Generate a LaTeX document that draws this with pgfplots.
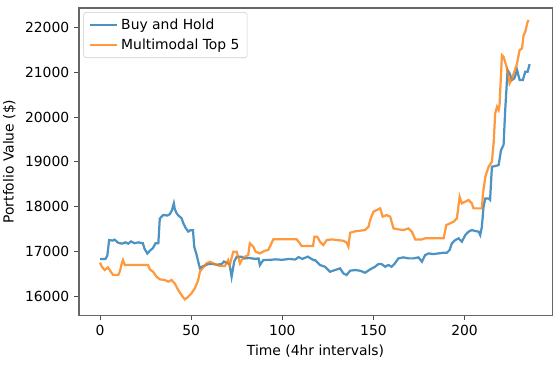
\documentclass[border=0pt]{standalone}
\usepackage{fontspec}
\setmainfont{DejaVu Sans}
\usepackage{pgfplots}
\pgfplotsset{compat=1.18}
\definecolor{bhblue}{RGB}{31,119,180}
\definecolor{mmorange}{RGB}{255,127,14}

\begin{document}
\begin{tikzpicture}
\path[use as bounding box] (-56.9pt,-39.6pt) rectangle (341.9pt,226.8pt);
\begin{axis}[
  at={(0,0)}, anchor=south west,
  scale only axis, width=340.5pt, height=221pt,
  xmin=-11.5, xmax=248, ymin=15575, ymax=22436,
  xtick={0,50,100,150,200},
  ytick={16000,17000,18000,19000,20000,21000,22000},
  scaled y ticks=false,
  /pgf/number format/assume math mode=true,
  /pgf/number format/1000 sep={},
  tick align=outside, tick pos=left,
  major tick length=3.5pt,
  tick style={black!70, line width=0.6pt},
  axis line style={black!60, line width=0.8pt},
  ticklabel style={font=\fontsize{10}{12}\selectfont},
  label style={font=\fontsize{10}{12}\selectfont},
  xlabel={Time (4hr intervals)},
  ylabel={Portfolio Value (\$)},
  legend style={at={(0.009,0.987)}, anchor=north west, draw=black!20, rounded corners=2pt,
    font=\fontsize{10}{12}\selectfont, inner xsep=3.5pt, inner ysep=2.5pt, row sep=1.5pt},
  legend cell align=left,
  legend image code/.code={\draw[#1] (0pt,0pt) -- (20pt,0pt);},
]
\addplot[bhblue, opacity=0.8, line width=1.6pt] coordinates {
(0,16830) (3,16830) (4,16900) (5,17250) (7,17240) (8,17260) (10,17190) (12,17170) (14,17200) (15.5,17170) (17,17220) (19,17180) (21,17200) (23.5,17180) (24.5,17050) (26,16950) (27.5,17020) (29,17070) (30.5,17180) (32,17180) (32.8,17730) (34.6,17810) (37,17800) (38.3,17830) (39.5,17920) (40.5,18070) (41,17950) (42,17850) (43,17800) (44.7,17740) (46,17600) (47,17520) (48.4,17440) (49.5,17470) (51,17470) (51.7,17100) (53,16920) (54,16750) (54.8,16620) (56.6,16670) (58,16690) (59.4,16715) (62,16715) (64,16700) (66.7,16715) (68,16770) (70,16730) (71,16720) (72.2,16430) (73.6,16770) (75,16880) (77.7,16880) (79,16840) (82,16850) (85,16830) (87,16840) (87.7,16690) (89.6,16805) (94,16810) (96,16820) (100,16810) (104,16830) (107,16815) (109,16870) (111,16830) (114,16880) (116,16830) (117.5,16800) (118,16804) (120.7,16693) (123.4,16655) (126.2,16543) (128.9,16581) (131.7,16618) (133.5,16506) (135.3,16469) (137.2,16566) (139.9,16581) (142.7,16566) (145.4,16521) (148.2,16596) (150.9,16655) (152.7,16715) (154.5,16715) (156.4,16655) (158.2,16693) (160,16655) (161.8,16730) (163.7,16842) (166.5,16864) (169.2,16842) (172,16842) (174.7,16864) (176.6,16767) (178.4,16916) (180.2,16953) (183,16938) (185.7,16953) (188.5,16968) (190.3,16968) (191.8,17028) (193,17177) (194.9,17251) (196.7,17289) (198.5,17214) (200.4,17363) (202.2,17438) (204,17475) (205.9,17452) (207.7,17440) (208.6,17363) (209.5,17549) (210.4,17997) (211.4,18182) (213.2,18182) (214,18150) (215,18890) (216.8,18905) (218.7,18927) (220,19263) (221.4,19374) (222.3,20156) (223.6,21050) (224.7,20976) (226,20827) (227.3,20864) (228.8,21050) (230.2,20827) (232,20827) (233.3,21013) (234.6,21013) (235.7,21184)
};
\addlegendentry{Buy and Hold}
\addplot[mmorange, opacity=0.8, line width=1.6pt] coordinates {
(0,16745) (1,16656) (2.6,16581) (4.4,16640) (5.9,16544) (7.2,16470) (10,16470) (11,16560) (11.7,16693) (12.6,16805) (13.6,16693) (26.4,16693) (27.3,16596) (29.1,16544) (31,16432) (32.8,16373) (35.6,16358) (37.4,16320) (39.2,16358) (41,16283) (42.9,16134) (45.1,16000) (46.5,15926) (48,15970) (50.2,16060) (52,16171) (53.9,16358) (54.8,16544) (56.6,16640) (58.4,16730) (60.3,16767) (63,16715) (65.8,16670) (68.5,16670) (70.3,16805) (71.2,16693) (73.1,16991) (75,16991) (76.8,16730) (77.7,16805) (79.5,16880) (81.3,16916) (82.2,17177) (84.1,17103) (85.4,16991) (87.7,16953) (90.5,17013) (92.3,17028) (95.1,17267) (107.9,17267) (109.6,17180) (110.5,17118) (116.9,17118) (117.6,17327) (119.2,17326) (120.7,17214) (122.5,17140) (124.4,17251) (127.1,17266) (129.9,17251) (133.5,17236) (135.3,17192) (136.3,17102) (137.2,17415) (139.9,17445) (142.7,17460) (145.4,17475) (147.3,17549) (148.2,17698) (150,17884) (151.8,17922) (153.7,17959) (155.1,17773) (157.3,17810) (159.2,17773) (161,17512) (163.7,17490) (166.5,17475) (169.2,17512) (171.1,17438) (172.9,17266) (176.6,17266) (178.4,17289) (188.5,17289) (190,17587) (192.1,17624) (194,17661) (195.8,17736) (197.3,18219) (198.5,18070) (200.4,18108) (202.2,18145) (204,18070) (204.9,17959) (209.5,17959) (210.1,18294) (211.4,18666) (213.2,18890) (215,19002) (216,19449) (216.8,20082) (217.8,20231) (218.7,20156) (219.2,20268) (220.5,21385) (221.4,21348) (223.3,21087) (224.7,20752) (226,20864) (227.3,21013) (228.8,21199) (230.2,21497) (231.5,21534) (232.4,21832) (233.3,21906) (234.6,22130) (235.2,22168)
};
\addlegendentry{Multimodal Top 5}
\end{axis}
\end{tikzpicture}
\end{document}
